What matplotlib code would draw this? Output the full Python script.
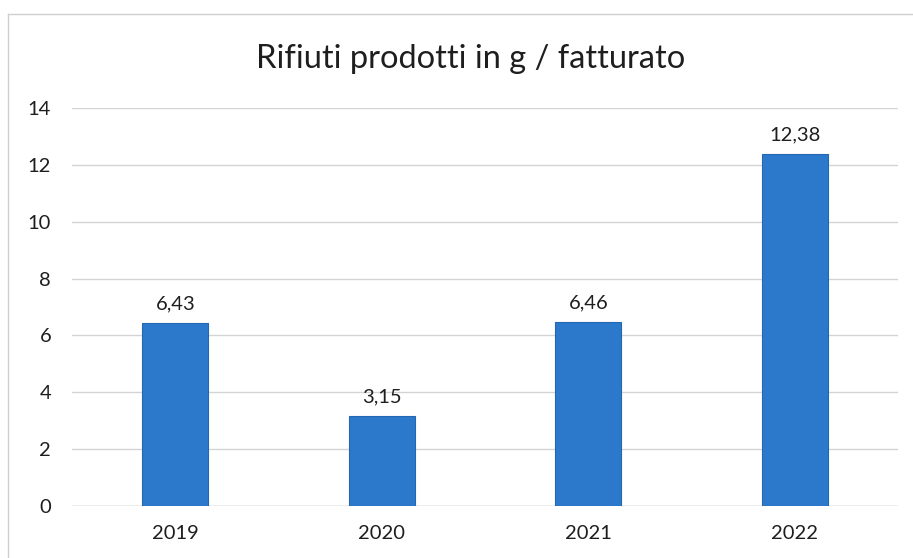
import matplotlib
matplotlib.use('Agg')
import matplotlib.pyplot as plt
from matplotlib.lines import Line2D

# dati
anni = ['2019', '2020', '2021', '2022']
valori = [6.43, 3.15, 6.46, 12.38]
etichette = ['6,43', '3,15', '6,46', '12,38']
yticks = [0, 2, 4, 6, 8, 10, 12, 14]

plt.rcParams['font.family'] = ['Lato', 'DejaVu Sans']

fig = plt.figure(figsize=(9.13, 5.58), dpi=100)
fig.patch.set_facecolor('white')
ax = fig.add_axes([0.0789, 0.0932, 0.9047, 0.7133])

x = range(len(anni))
ax.bar(x, valori, width=0.32, color='#2c79cc', edgecolor='#2566b0', linewidth=0.8, zorder=3)
for i, (v, t) in enumerate(zip(valori, etichette)):
    ax.annotate(t, (i, v), xytext=(0, 8), textcoords='offset points',
                ha='center', va='bottom', fontsize=14.5, color='#1e1e1e')

ax.set_xlim(-0.5, 3.5)
ax.set_ylim(0, 14)
ax.set_yticks(yticks)
ax.set_xticks(list(x))
ax.set_xticklabels(anni)
ax.tick_params(axis='both', length=0, labelsize=14.5, labelcolor='#1e1e1e')
ax.tick_params(axis='y', pad=15)
ax.tick_params(axis='x', pad=14)
ax.grid(axis='y', color='#d4d4d4', linewidth=1, zorder=0)
for s in ax.spines.values():
    s.set_visible(False)
ax.axhline(0, color='#c8c8c8', linewidth=1, zorder=1)

fig.text(0.515, 0.895, 'Rifiuti prodotti in g / fatturato', ha='center', va='center',
         fontsize=23.5, color='#1e1e1e')

# bordo dell'area del grafico
fig.add_artist(Line2D([0.0088, 0.0088], [0.0, 0.975], transform=fig.transFigure, color='#cfcfcf', lw=1))
fig.add_artist(Line2D([0.0088, 1.0], [0.975, 0.975], transform=fig.transFigure, color='#cfcfcf', lw=1))

fig.savefig('out.png', dpi=100)
